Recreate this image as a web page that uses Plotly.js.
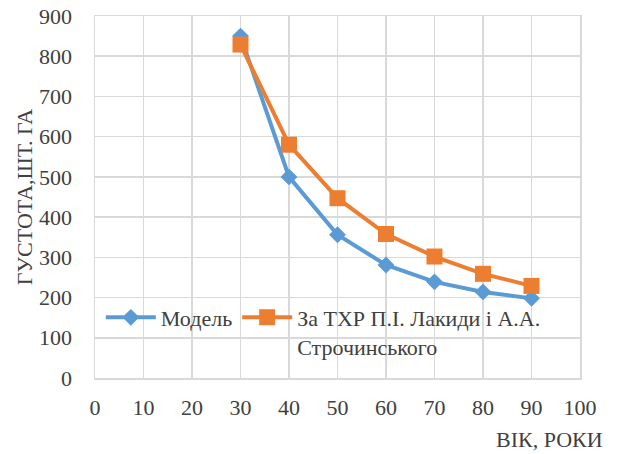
<!DOCTYPE html>
<html>
<head>
<meta charset="utf-8">
<script src="https://cdn.plot.ly/plotly-3.0.1.min.js"></script>
<style>html,body{margin:0;padding:0;background:#fff;}#chart{width:622px;height:454px;}</style>
</head>
<body>
<div id="chart"></div>
<script>
const ages = [30, 40, 50, 60, 70, 80, 90];
const modelValues = [850, 500, 356, 281, 239, 214, 198];
const tablesValues = [829, 580, 447, 358, 302, 259, 229];
const seriesNames = ["Модель", "За ТХР П.І. Лакиди і А.А.<br>Строчинського"];
const xTicks = [0, 10, 20, 30, 40, 50, 60, 70, 80, 90, 100];
const yTicks = [0, 100, 200, 300, 400, 500, 600, 700, 800, 900];
const xTitle = "ВІК, РОКИ";
const yTitle = "ГУСТОТА,ШТ. ГА";

const FONT = "'Times New Roman', 'Liberation Serif', 'DejaVu Serif', serif";
const traces = [
  {x: ages, y: modelValues, name: seriesNames[0], type: 'scatter', mode: 'lines+markers',
   line: {color: '#5B9BD5', width: 4}, marker: {symbol: 'diamond', size: 13, color: '#5B9BD5'}},
  {x: ages, y: tablesValues, name: seriesNames[1], type: 'scatter', mode: 'lines+markers',
   line: {color: '#ED7D31', width: 4}, marker: {symbol: 'square', size: 16, color: '#ED7D31'}}
];
const layout = {
  width: 622, height: 454,
  margin: {l: 95, r: 42, t: 16, b: 76},
  paper_bgcolor: '#fff', plot_bgcolor: '#fff',
  font: {family: FONT, size: 22, color: '#404040'},
  showlegend: true,
  legend: {orientation: 'h', x: 0.012, y: 0.225, xanchor: 'left', yanchor: 'top',
    bgcolor: 'rgba(0,0,0,0)', valign: 'top', font: {family: FONT, size: 22, color: '#404040'},
    itemwidth: 50, tracegroupgap: 0},
  xaxis: {range: [0, 100], tickvals: xTicks, showgrid: true, gridcolor: '#d9d9d9', gridwidth: 1.5,
    zeroline: false, showline: true, linecolor: '#d9d9d9', linewidth: 1.5, mirror: true,
    ticks: '', ticklabelstandoff: 9, tickfont: {family: FONT, size: 22, color: '#404040'}},
  yaxis: {range: [0, 900], tickvals: yTicks, showgrid: true, gridcolor: '#d9d9d9', gridwidth: 1.5,
    zeroline: false, showline: true, linecolor: '#d9d9d9', linewidth: 1.5, mirror: true,
    ticks: '', ticklabelstandoff: 17, tickfont: {family: FONT, size: 22, color: '#404040'}},
  annotations: [
    {text: xTitle, xref: 'paper', yref: 'paper', x: 1.052, y: -0.171, xanchor: 'right', yanchor: 'middle',
     showarrow: false, font: {family: FONT, size: 22, color: '#404040'}},
    {text: yTitle, xref: 'paper', yref: 'paper', x: -0.146, y: 0.5, xanchor: 'center', yanchor: 'middle',
     textangle: -90, showarrow: false, font: {family: FONT, size: 22, color: '#404040'}}
  ]
};
Plotly.newPlot('chart', traces, layout, {displayModeBar: false, staticPlot: true});
</script>
</body>
</html>
